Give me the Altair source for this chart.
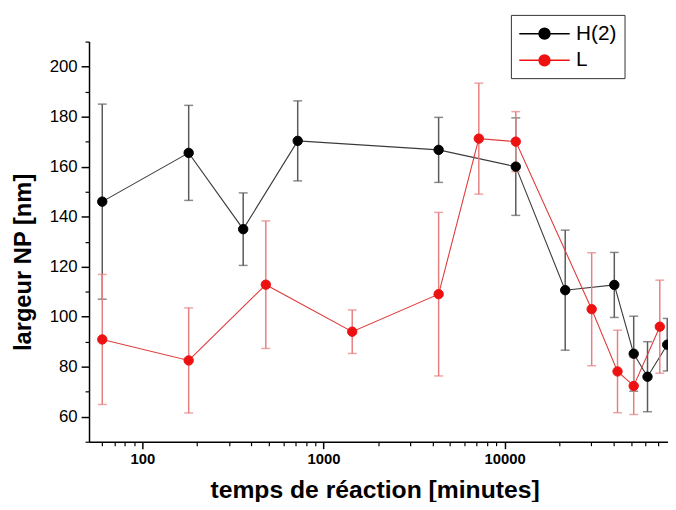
import altair as alt
import pandas as pd

series_names = ["H(2)", "L"]

# H(2) series: reaction time (minutes), mean width (nm), error (nm)
t_h = [60, 180, 360, 720, 4320, 11520, 21600, 40320, 51600, 61500, 79000]
m_h = [146.0, 165.5, 135.0, 170.3, 166.7, 160.0, 110.6, 112.7, 85.2, 76.0, 88.8]
e_h = [39.0, 19.0, 14.5, 16.0, 13.0, 19.5, 24.0, 13.0, 15.0, 14.0, 10.5]

# L series
t_l = [60, 180, 480, 1440, 4320, 7200, 11520, 30240, 42000, 51600, 71900]
m_l = [90.9, 82.5, 112.8, 94.0, 109.0, 171.2, 170.0, 103.0, 78.1, 72.3, 96.0]
e_l = [26.0, 21.0, 25.5, 8.7, 32.7, 22.2, 12.0, 22.6, 16.5, 11.4, 18.6]

x_major = [100, 1000, 10000]
x_minor = [60, 70, 80, 90, 200, 300, 400, 500, 600, 700, 800, 900,
           2000, 3000, 4000, 5000, 6000, 7000, 8000, 9000,
           20000, 30000, 40000, 50000, 60000, 70000]
y_major = [60, 80, 100, 120, 140, 160, 180, 200]
y_minor = [50, 70, 90, 110, 130, 150, 170, 190, 210]

colors_pt = ["#000000", "#ee1111"]


def frame(ts, ms, es, name):
    return pd.DataFrame({
        "t": ts, "m": ms,
        "lo": [m - e for m, e in zip(ms, es)],
        "hi": [m + e for m, e in zip(ms, es)],
        "series": name,
    })


df_h = frame(t_h, m_h, e_h, series_names[0])
df_l = frame(t_l, m_l, e_l, series_names[1])
df_all = pd.concat([df_h, df_l], ignore_index=True)

xscale = alt.Scale(type="log", domain=[50.7, 79800], nice=False)
yscale = alt.Scale(domain=[50, 210], nice=False, zero=False)

FONT = "Liberation Sans"

x_axis_major = alt.Axis(
    orient="bottom", values=x_major, format="d", grid=False,
    labelFontSize=15, labelFontWeight="bold", labelFont=FONT, labelPadding=3,
    tickSize=7, tickWidth=1.5, domainWidth=1.5,
    title="temps de réaction [minutes]", titleFontSize=25, titleFontWeight="bold",
    titleFont=FONT, titleX=289, titleY=56, titleBaseline="alphabetic",
)
y_axis_major = alt.Axis(
    orient="left", values=y_major, grid=False,
    labelFontSize=17, labelFont=FONT, labelPadding=4,
    tickSize=8, tickWidth=1.5, domainWidth=1.5,
    title="largeur NP [nm]", titleFontSize=24, titleFontWeight="bold",
    titleFont=FONT, titleX=-59, titleY=223, titleBaseline="alphabetic",
)
x_axis_minor = alt.Axis(orient="bottom", values=x_minor, labels=False, domain=False,
                        tickSize=4, tickWidth=1.2, grid=False, title=None)
y_axis_minor = alt.Axis(orient="left", values=y_minor, labels=False, domain=False,
                        tickSize=4, tickWidth=1.2, grid=False, title=None)


def err_layers(df, color, first_axes=None):
    base = alt.Chart(df)
    if first_axes is not None:
        xa, ya = first_axes
    else:
        xa, ya = None, None
    rule = base.mark_rule(color=color, strokeWidth=1.5).encode(
        x=alt.X("t:Q", scale=xscale, axis=xa),
        y=alt.Y("lo:Q", scale=yscale, axis=ya),
        y2="hi:Q",
    )
    cap_lo = base.mark_tick(color=color, orient="horizontal", size=9, thickness=1.5).encode(
        x=alt.X("t:Q", scale=xscale, axis=None),
        y=alt.Y("lo:Q", scale=yscale, axis=None),
    )
    cap_hi = base.mark_tick(color=color, orient="horizontal", size=9, thickness=1.5).encode(
        x=alt.X("t:Q", scale=xscale, axis=None),
        y=alt.Y("hi:Q", scale=yscale, axis=None),
    )
    return [rule, cap_lo, cap_hi]


def line_layer(df, color, axes=None):
    xa, ya = axes if axes is not None else (None, None)
    return alt.Chart(df).mark_line(color=color, strokeWidth=1.1, clip=True).encode(
        x=alt.X("t:Q", scale=xscale, axis=xa),
        y=alt.Y("m:Q", scale=yscale, axis=ya),
    )


legend_kw = dict(
    title=None, orient="none", legendX=427, legendY=-27,
    symbolType="M-2.55,0L2.55,0M-0.55,0A0.55,0.55,0,1,1,0.55,0A0.55,0.55,0,1,1,-0.55,0Z",
    symbolSize=400, symbolStrokeWidth=1.5, symbolOffset=15,
    labelFontSize=21, labelFont=FONT, labelColor="black", labelOffset=21,
    rowPadding=6, padding=8, strokeColor="#333333", fillColor="white",
)

points = alt.Chart(df_all).mark_point(filled=True, size=90, opacity=1, strokeWidth=1, clip=True).encode(
    x=alt.X("t:Q", scale=xscale, axis=None),
    y=alt.Y("m:Q", scale=yscale, axis=None),
    fill=alt.Fill("series:N", scale=alt.Scale(domain=series_names, range=colors_pt),
                  legend=alt.Legend(**legend_kw)),
    stroke=alt.Stroke("series:N", scale=alt.Scale(domain=series_names, range=colors_pt),
                      legend=alt.Legend(**legend_kw)),
)

layers = []
layers += err_layers(df_h, "#5a5a5a", first_axes=(x_axis_major, y_axis_major))
layers.append(line_layer(df_h, "#3a3a3a", axes=(x_axis_minor, y_axis_minor)))
layers += err_layers(df_l, "#e58080")
layers.append(line_layer(df_l, "#e03c3c"))
layers.append(points)

chart = alt.layer(*layers).resolve_axis(x="independent", y="independent").properties(
    width=586, height=405, autosize="none",
    padding={"left": 82, "top": 31, "right": 0, "bottom": 58},
).configure_view(stroke=None).configure_axis(
    domainColor="black", tickColor="black", labelColor="black", titleColor="black",
)

chart.save("out.html", embed_options={"renderer": "svg", "actions": False})
